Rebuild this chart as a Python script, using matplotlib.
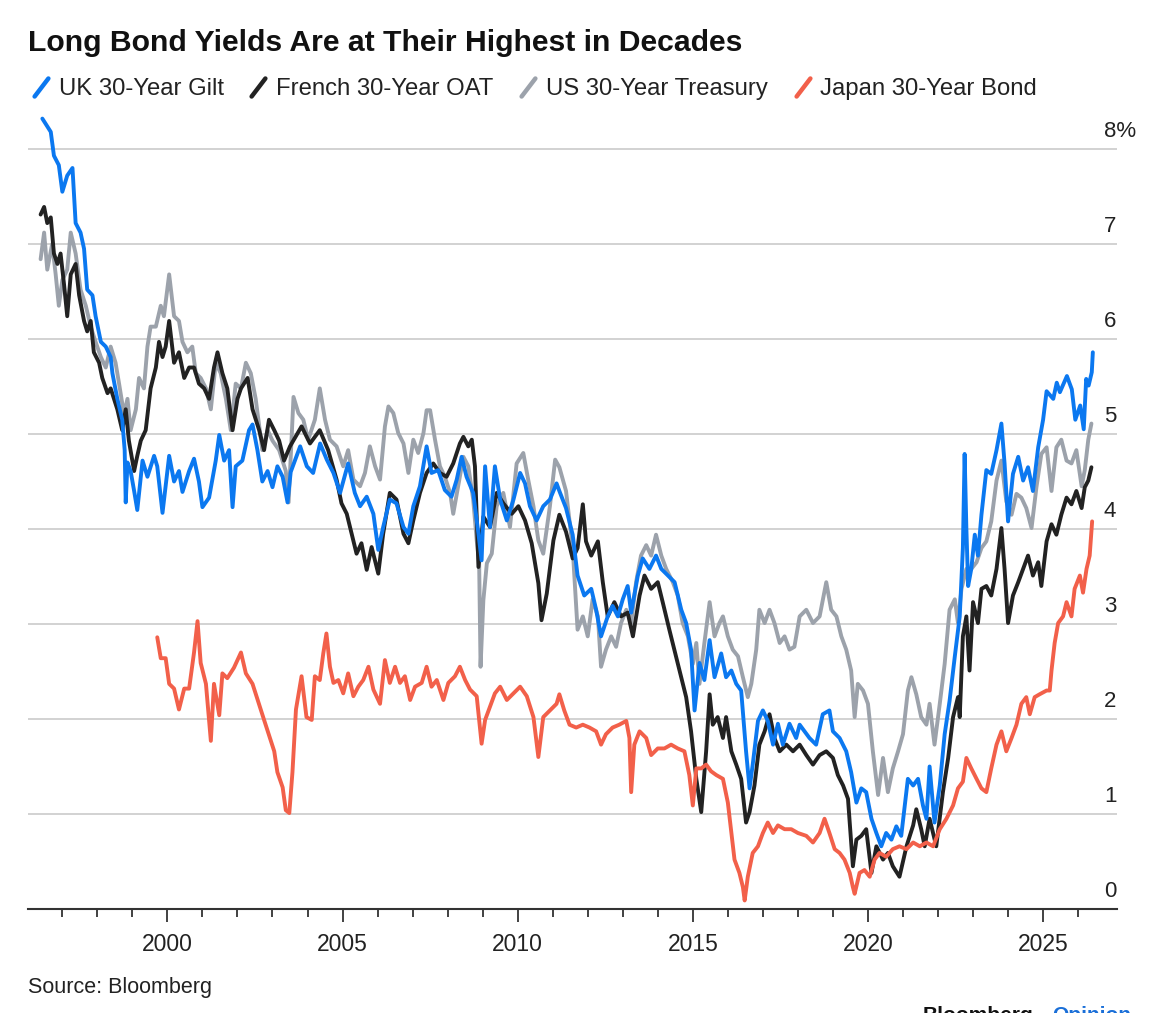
import matplotlib
matplotlib.use("Agg")
import matplotlib.pyplot as plt
from matplotlib.lines import Line2D
from matplotlib.markers import MarkerStyle
from matplotlib.path import Path
from matplotlib.transforms import ScaledTranslation

# ---------------- data ----------------
uk_years = [1996.43, 1996.67, 1996.76, 1996.9, 1997.0, 1997.14, 1997.29, 1997.38, 1997.52, 1997.62,
            1997.71, 1997.86, 1997.95, 1998.1, 1998.24, 1998.38, 1998.43, 1998.57, 1998.71, 1998.78,
            1998.81, 1998.86, 1998.95, 1999.05, 1999.14, 1999.29, 1999.43, 1999.62, 1999.71, 1999.86,
            2000.05, 2000.19, 2000.33, 2000.43, 2000.62, 2000.76, 2000.9, 2001.0, 2001.19, 2001.38,
            2001.48, 2001.62, 2001.76, 2001.86, 2001.95, 2002.14, 2002.33, 2002.43, 2002.57, 2002.71,
            2002.86, 2003.0, 2003.14, 2003.29, 2003.43, 2003.52, 2003.79, 2003.98, 2004.16, 2004.36,
            2004.55, 2004.74, 2004.93, 2005.16, 2005.35, 2005.5, 2005.69, 2005.88, 2006.02, 2006.16,
            2006.35, 2006.54, 2006.74, 2006.88, 2007.02, 2007.21, 2007.4, 2007.54, 2007.73, 2007.92,
            2008.11, 2008.26, 2008.4, 2008.54, 2008.73, 2008.88, 2008.97, 2009.07, 2009.21, 2009.35,
            2009.5, 2009.69, 2009.88, 2010.07, 2010.21, 2010.35, 2010.54, 2010.73, 2010.92, 2011.11,
            2011.19, 2011.38, 2011.57, 2011.71, 2011.9, 2012.1, 2012.24, 2012.38, 2012.57, 2012.71,
            2012.86, 2013.0, 2013.14, 2013.24, 2013.43, 2013.57, 2013.76, 2013.95, 2014.1, 2014.29,
            2014.48, 2014.67, 2014.81, 2014.95, 2015.05, 2015.19, 2015.33, 2015.48, 2015.62, 2015.81,
            2015.95, 2016.1, 2016.24, 2016.38, 2016.52, 2016.62, 2016.71, 2016.86, 2017.0, 2017.14,
            2017.29, 2017.43, 2017.57, 2017.76, 2017.95, 2018.05, 2018.33, 2018.52, 2018.71, 2018.9,
            2019.0, 2019.19, 2019.38, 2019.52, 2019.67, 2019.81, 2019.95, 2020.1, 2020.24, 2020.38,
            2020.52, 2020.67, 2020.81, 2020.95, 2021.14, 2021.29, 2021.43, 2021.57, 2021.67, 2021.76,
            2021.9, 2022.05, 2022.19, 2022.33, 2022.48, 2022.62, 2022.71, 2022.76, 2022.81, 2022.86,
            2022.95, 2023.05, 2023.14, 2023.24, 2023.38, 2023.52, 2023.67, 2023.81, 2023.9, 2024.0,
            2024.14, 2024.29, 2024.43, 2024.57, 2024.71, 2024.86, 2025.0, 2025.1, 2025.29, 2025.39,
            2025.48, 2025.68, 2025.82, 2025.92, 2026.06, 2026.16, 2026.23, 2026.3, 2026.39, 2026.42]
uk_values = [8.32, 8.18, 7.93, 7.83, 7.55, 7.72, 7.8, 7.22, 7.12, 6.95,
             6.52, 6.46, 6.24, 5.97, 5.92, 5.81, 5.64, 5.37, 5.15, 4.83,
             4.28, 4.7, 4.61, 4.4, 4.2, 4.72, 4.55, 4.77, 4.66, 4.17,
             4.77, 4.5, 4.61, 4.39, 4.61, 4.74, 4.5, 4.23, 4.33, 4.72,
             4.99, 4.72, 4.83, 4.23, 4.66, 4.72, 5.04, 5.1, 4.83, 4.5,
             4.61, 4.44, 4.66, 4.55, 4.28, 4.6, 4.87, 4.66, 4.59, 4.9,
             4.73, 4.59, 4.38, 4.69, 4.38, 4.24, 4.34, 4.16, 3.78, 4.02,
             4.31, 4.27, 4.02, 3.95, 4.24, 4.45, 4.87, 4.59, 4.62, 4.41,
             4.34, 4.52, 4.76, 4.55, 4.38, 3.95, 3.67, 4.66, 4.02, 4.66,
             4.31, 4.09, 4.31, 4.59, 4.48, 4.24, 4.09, 4.24, 4.31, 4.48,
             4.40, 4.22, 3.94, 3.51, 3.3, 3.37, 3.15, 2.87, 3.08, 3.19,
             3.08, 3.26, 3.4, 3.12, 3.51, 3.69, 3.58, 3.72, 3.58, 3.51,
             3.44, 3.15, 3.01, 2.73, 2.09, 2.59, 2.41, 2.83, 2.44, 2.69,
             2.44, 2.51, 2.37, 2.3, 1.66, 1.27, 1.52, 1.98, 2.09, 1.98,
             1.73, 1.95, 1.73, 1.95, 1.8, 1.94, 1.8, 1.73, 2.05, 2.09,
             1.87, 1.8, 1.66, 1.44, 1.12, 1.27, 1.23, 0.95, 0.8, 0.66,
             0.8, 0.73, 0.87, 0.77, 1.37, 1.3, 1.37, 1.09, 0.95, 1.5,
             0.91, 1.3, 1.84, 2.19, 2.66, 3.08, 3.8, 4.79, 4.0, 3.4,
             3.58, 3.94, 3.72, 4.15, 4.62, 4.58, 4.83, 5.11, 4.69, 4.08,
             4.58, 4.76, 4.51, 4.65, 4.4, 4.86, 5.15, 5.45, 5.37, 5.54,
             5.44, 5.61, 5.47, 5.15, 5.3, 5.05, 5.58, 5.51, 5.65, 5.86]

fr_years = [1996.38, 1996.48, 1996.57, 1996.67, 1996.76, 1996.86, 1996.95, 1997.05, 1997.14, 1997.24,
            1997.38, 1997.48, 1997.62, 1997.71, 1997.81, 1997.9, 1998.05, 1998.14, 1998.29, 1998.38,
            1998.57, 1998.71, 1998.81, 1998.9, 1999.05, 1999.14, 1999.24, 1999.38, 1999.52, 1999.67,
            1999.76, 1999.86, 1999.95, 2000.05, 2000.19, 2000.33, 2000.48, 2000.62, 2000.76, 2000.9,
            2001.05, 2001.19, 2001.33, 2001.43, 2001.57, 2001.71, 2001.86, 2002.0, 2002.1, 2002.29,
            2002.43, 2002.62, 2002.76, 2002.9, 2003.05, 2003.19, 2003.33, 2003.5, 2003.83, 2004.07,
            2004.35, 2004.59, 2004.83, 2004.97, 2005.12, 2005.26, 2005.4, 2005.54, 2005.69, 2005.83,
            2006.02, 2006.16, 2006.35, 2006.54, 2006.74, 2006.88, 2007.02, 2007.21, 2007.4, 2007.59,
            2007.78, 2007.97, 2008.16, 2008.35, 2008.45, 2008.59, 2008.69, 2008.78, 2008.88, 2009.02,
            2009.21, 2009.4, 2009.59, 2009.83, 2010.02, 2010.21, 2010.4, 2010.59, 2010.68, 2010.83,
            2011.02, 2011.19, 2011.38, 2011.57, 2011.71, 2011.86, 2011.95, 2012.1, 2012.29, 2012.43,
            2012.57, 2012.76, 2012.95, 2013.14, 2013.29, 2013.48, 2013.62, 2013.81, 2014.0, 2014.14,
            2014.33, 2014.52, 2014.67, 2014.81, 2014.95, 2015.1, 2015.24, 2015.38, 2015.48, 2015.57,
            2015.71, 2015.86, 2015.95, 2016.1, 2016.24, 2016.38, 2016.52, 2016.62, 2016.76, 2016.9,
            2017.05, 2017.19, 2017.33, 2017.48, 2017.67, 2017.86, 2018.05, 2018.24, 2018.43, 2018.62,
            2018.81, 2019.0, 2019.14, 2019.29, 2019.43, 2019.57, 2019.67, 2019.81, 2019.95, 2020.1,
            2020.24, 2020.43, 2020.57, 2020.71, 2020.9, 2021.1, 2021.29, 2021.38, 2021.52, 2021.62,
            2021.76, 2021.95, 2022.14, 2022.29, 2022.43, 2022.57, 2022.62, 2022.71, 2022.81, 2022.9,
            2023.0, 2023.14, 2023.24, 2023.38, 2023.52, 2023.67, 2023.81, 2023.9, 2024.0, 2024.14,
            2024.29, 2024.43, 2024.57, 2024.71, 2024.86, 2024.95, 2025.1, 2025.24, 2025.38, 2025.52,
            2025.67, 2025.81, 2025.95, 2026.1, 2026.19, 2026.29, 2026.38]
fr_values = [7.31, 7.39, 7.22, 7.28, 6.9, 6.79, 6.9, 6.57, 6.24, 6.68,
             6.79, 6.46, 6.19, 6.08, 6.19, 5.86, 5.75, 5.59, 5.43, 5.48,
             5.26, 5.04, 5.26, 4.93, 4.61, 4.77, 4.93, 5.04, 5.48, 5.7,
             5.97, 5.81, 5.92, 6.19, 5.75, 5.86, 5.59, 5.7, 5.7, 5.53,
             5.48, 5.37, 5.7, 5.86, 5.64, 5.48, 5.04, 5.37, 5.48, 5.59,
             5.26, 5.04, 4.83, 5.15, 5.04, 4.93, 4.72, 4.87, 5.08, 4.9,
             5.04, 4.83, 4.52, 4.27, 4.16, 3.95, 3.74, 3.85, 3.57, 3.81,
             3.53, 3.95, 4.38, 4.31, 3.95, 3.85, 4.09, 4.38, 4.59, 4.69,
             4.59, 4.55, 4.69, 4.9, 4.97, 4.87, 4.94, 4.66, 3.6, 4.13,
             4.02, 4.38, 4.27, 4.16, 4.24, 4.09, 3.85, 3.43, 3.04, 3.32,
             3.88, 4.15, 3.97, 3.69, 3.8, 4.26, 3.87, 3.72, 3.87, 3.44,
             3.08, 3.23, 3.08, 3.12, 2.87, 3.3, 3.51, 3.37, 3.44, 3.23,
             2.94, 2.66, 2.44, 2.23, 1.87, 1.37, 1.02, 1.66, 2.26, 1.94,
             2.02, 1.8, 2.02, 1.66, 1.52, 1.37, 0.91, 1.02, 1.3, 1.73,
             1.87, 2.05, 1.8, 1.66, 1.73, 1.66, 1.73, 1.62, 1.52, 1.62,
             1.66, 1.59, 1.41, 1.3, 1.16, 0.45, 0.73, 0.77, 0.84, 0.38,
             0.66, 0.52, 0.59, 0.45, 0.34, 0.66, 0.88, 1.05, 0.84, 0.66,
             0.95, 0.66, 1.23, 1.59, 2.02, 2.23, 2.02, 2.87, 3.08, 2.51,
             3.23, 3.01, 3.37, 3.4, 3.3, 3.58, 4.01, 3.58, 3.01, 3.3,
             3.44, 3.58, 3.72, 3.51, 3.65, 3.4, 3.87, 4.05, 3.94, 4.15,
             4.33, 4.26, 4.4, 4.22, 4.44, 4.51, 4.65]

us_years = [1996.38, 1996.48, 1996.57, 1996.71, 1996.81, 1996.9, 1997.0, 1997.14, 1997.24, 1997.38,
            1997.52, 1997.67, 1997.81, 1997.95, 1998.1, 1998.24, 1998.38, 1998.52, 1998.62, 1998.76,
            1998.86, 1998.95, 1999.1, 1999.19, 1999.33, 1999.43, 1999.52, 1999.67, 1999.81, 1999.9,
            2000.05, 2000.19, 2000.33, 2000.43, 2000.57, 2000.71, 2000.81, 2000.95, 2001.1, 2001.24,
            2001.38, 2001.52, 2001.67, 2001.81, 2001.95, 2002.1, 2002.24, 2002.38, 2002.52, 2002.71,
            2002.86, 2003.0, 2003.19, 2003.38, 2003.46, 2003.6, 2003.74, 2003.88, 2004.02, 2004.21,
            2004.35, 2004.5, 2004.64, 2004.83, 2005.02, 2005.16, 2005.31, 2005.5, 2005.64, 2005.78,
            2005.93, 2006.07, 2006.21, 2006.31, 2006.45, 2006.59, 2006.74, 2006.88, 2007.02, 2007.16,
            2007.31, 2007.4, 2007.5, 2007.64, 2007.78, 2007.92, 2008.07, 2008.16, 2008.3, 2008.45,
            2008.59, 2008.73, 2008.83, 2008.9, 2008.94, 2009.02, 2009.12, 2009.26, 2009.4, 2009.59,
            2009.78, 2009.97, 2010.16, 2010.3, 2010.45, 2010.59, 2010.73, 2010.92, 2011.07, 2011.19,
            2011.38, 2011.57, 2011.71, 2011.86, 2012.0, 2012.14, 2012.29, 2012.38, 2012.52, 2012.67,
            2012.81, 2012.95, 2013.1, 2013.24, 2013.38, 2013.52, 2013.67, 2013.81, 2013.95, 2014.1,
            2014.24, 2014.43, 2014.57, 2014.71, 2014.86, 2015.0, 2015.1, 2015.19, 2015.33, 2015.48,
            2015.62, 2015.76, 2015.86, 2016.0, 2016.14, 2016.29, 2016.43, 2016.57, 2016.67, 2016.81,
            2016.9, 2017.05, 2017.19, 2017.33, 2017.48, 2017.62, 2017.76, 2017.9, 2018.05, 2018.24,
            2018.43, 2018.62, 2018.81, 2018.95, 2019.1, 2019.24, 2019.38, 2019.52, 2019.62, 2019.71,
            2019.86, 2020.0, 2020.14, 2020.29, 2020.43, 2020.57, 2020.71, 2020.86, 2021.0, 2021.14,
            2021.24, 2021.38, 2021.52, 2021.67, 2021.76, 2021.9, 2022.05, 2022.19, 2022.33, 2022.48,
            2022.57, 2022.67, 2022.81, 2022.95, 2023.1, 2023.24, 2023.38, 2023.52, 2023.67, 2023.81,
            2023.95, 2024.1, 2024.24, 2024.38, 2024.52, 2024.67, 2024.81, 2024.95, 2025.1, 2025.24,
            2025.38, 2025.52, 2025.67, 2025.81, 2025.95, 2026.1, 2026.19, 2026.29, 2026.38]
us_values = [6.84, 7.12, 6.73, 7.0, 6.68, 6.35, 6.62, 6.73, 7.12, 6.9,
             6.52, 6.35, 6.13, 5.97, 5.81, 5.7, 5.92, 5.75, 5.53, 5.21,
             5.37, 5.04, 5.26, 5.59, 5.48, 5.92, 6.13, 6.13, 6.35, 6.24,
             6.68, 6.24, 6.19, 5.97, 5.86, 5.92, 5.64, 5.59, 5.48, 5.26,
             5.75, 5.64, 5.37, 5.04, 5.53, 5.48, 5.75, 5.64, 5.37, 4.83,
             5.04, 4.93, 4.83, 4.61, 4.28, 5.39, 5.22, 5.15, 4.94, 5.15,
             5.48, 5.15, 4.94, 4.87, 4.66, 4.83, 4.52, 4.45, 4.59, 4.87,
             4.66, 4.52, 5.08, 5.29, 5.22, 5.01, 4.9, 4.59, 4.94, 4.8,
             5.01, 5.25, 5.25, 4.94, 4.66, 4.55, 4.38, 4.16, 4.45, 4.76,
             4.66, 4.31, 3.88, 3.64, 2.55, 3.25, 3.64, 3.74, 4.24, 4.38,
             4.02, 4.69, 4.8, 4.52, 4.24, 3.88, 3.74, 4.24, 4.73, 4.65,
             4.4, 3.8, 2.94, 3.08, 2.87, 3.26, 3.08, 2.55, 2.73, 2.87,
             2.76, 3.01, 3.15, 3.01, 3.44, 3.72, 3.83, 3.72, 3.94, 3.72,
             3.58, 3.44, 3.3, 3.01, 2.87, 2.58, 2.8, 2.37, 2.8, 3.23,
             2.87, 3.01, 3.08, 2.87, 2.73, 2.66, 2.44, 2.23, 2.37, 2.73,
             3.15, 3.01, 3.15, 3.01, 2.8, 2.87, 2.73, 2.76, 3.08, 3.15,
             3.01, 3.08, 3.44, 3.15, 3.08, 2.87, 2.73, 2.51, 2.02, 2.37,
             2.3, 2.16, 1.66, 1.2, 1.59, 1.23, 1.48, 1.66, 1.84, 2.3,
             2.44, 2.26, 2.02, 1.94, 2.16, 1.73, 2.16, 2.58, 3.15, 3.26,
             3.01, 3.37, 3.58, 3.58, 3.65, 3.8, 3.87, 4.08, 4.51, 4.72,
             4.29, 4.15, 4.37, 4.33, 4.22, 4.01, 4.44, 4.79, 4.86, 4.4,
             4.86, 4.94, 4.72, 4.69, 4.83, 4.45, 4.62, 4.94, 5.11]

jp_years = [1999.71, 1999.81, 1999.95, 2000.05, 2000.19, 2000.33, 2000.48, 2000.62, 2000.76, 2000.86,
            2000.95, 2001.1, 2001.24, 2001.33, 2001.48, 2001.57, 2001.71, 2001.9, 2002.1, 2002.24,
            2002.43, 2002.62, 2002.76, 2002.9, 2003.05, 2003.14, 2003.29, 2003.38, 2003.48, 2003.57,
            2003.67, 2003.83, 2003.97, 2004.12, 2004.21, 2004.35, 2004.45, 2004.54, 2004.64, 2004.74,
            2004.88, 2005.02, 2005.16, 2005.31, 2005.45, 2005.59, 2005.74, 2005.88, 2006.07, 2006.21,
            2006.35, 2006.5, 2006.64, 2006.78, 2006.93, 2007.07, 2007.26, 2007.4, 2007.54, 2007.69,
            2007.88, 2008.02, 2008.21, 2008.35, 2008.5, 2008.64, 2008.83, 2008.97, 2009.07, 2009.21,
            2009.35, 2009.5, 2009.69, 2009.88, 2010.07, 2010.26, 2010.45, 2010.59, 2010.73, 2010.92,
            2011.11, 2011.19, 2011.33, 2011.48, 2011.67, 2011.86, 2012.05, 2012.24, 2012.38, 2012.52,
            2012.71, 2012.9, 2013.1, 2013.19, 2013.24, 2013.33, 2013.48, 2013.67, 2013.81, 2014.0,
            2014.19, 2014.38, 2014.57, 2014.76, 2014.9, 2015.0, 2015.1, 2015.24, 2015.38, 2015.52,
            2015.67, 2015.86, 2016.0, 2016.1, 2016.19, 2016.33, 2016.43, 2016.48, 2016.57, 2016.71,
            2016.86, 2017.0, 2017.14, 2017.29, 2017.43, 2017.62, 2017.81, 2018.0, 2018.24, 2018.43,
            2018.62, 2018.76, 2018.9, 2019.05, 2019.19, 2019.33, 2019.48, 2019.57, 2019.62, 2019.76,
            2019.9, 2020.05, 2020.19, 2020.33, 2020.52, 2020.71, 2020.9, 2021.1, 2021.29, 2021.48,
            2021.67, 2021.86, 2022.05, 2022.24, 2022.43, 2022.57, 2022.71, 2022.81, 2022.95, 2023.1,
            2023.24, 2023.38, 2023.52, 2023.67, 2023.81, 2023.95, 2024.1, 2024.24, 2024.38, 2024.52,
            2024.62, 2024.76, 2024.9, 2025.1, 2025.19, 2025.24, 2025.33, 2025.43, 2025.57, 2025.67,
            2025.81, 2025.9, 2026.05, 2026.14, 2026.24, 2026.33, 2026.4]
jp_values = [2.86, 2.64, 2.64, 2.37, 2.32, 2.1, 2.32, 2.32, 2.7, 3.03,
             2.59, 2.37, 1.77, 2.37, 2.04, 2.48, 2.43, 2.54, 2.7, 2.48,
             2.37, 2.15, 1.99, 1.83, 1.66, 1.44, 1.28, 1.04, 1.01, 1.44,
             2.1, 2.45, 2.02, 1.99, 2.45, 2.41, 2.69, 2.9, 2.55, 2.38,
             2.41, 2.27, 2.48, 2.24, 2.34, 2.41, 2.55, 2.31, 2.16, 2.62,
             2.38, 2.55, 2.38, 2.45, 2.2, 2.34, 2.38, 2.55, 2.34, 2.41,
             2.2, 2.38, 2.45, 2.55, 2.41, 2.31, 2.24, 1.74, 1.99, 2.13,
             2.27, 2.34, 2.2, 2.27, 2.34, 2.24, 2.02, 1.6, 2.02, 2.09,
             2.16, 2.26, 2.09, 1.94, 1.91, 1.94, 1.91, 1.87, 1.73, 1.84,
             1.91, 1.94, 1.98, 1.8, 1.23, 1.73, 1.87, 1.8, 1.62, 1.69,
             1.69, 1.73, 1.69, 1.66, 1.41, 1.09, 1.48, 1.48, 1.52, 1.45,
             1.41, 1.37, 1.12, 0.8, 0.52, 0.38, 0.23, 0.09, 0.34, 0.59,
             0.66, 0.8, 0.91, 0.8, 0.88, 0.84, 0.84, 0.8, 0.77, 0.7,
             0.8, 0.95, 0.8, 0.63, 0.59, 0.52, 0.38, 0.23, 0.16, 0.38,
             0.41, 0.34, 0.52, 0.59, 0.55, 0.63, 0.66, 0.63, 0.7, 0.66,
             0.7, 0.66, 0.84, 0.95, 1.09, 1.27, 1.34, 1.59, 1.48, 1.37,
             1.27, 1.23, 1.48, 1.73, 1.87, 1.66, 1.8, 1.94, 2.16, 2.23,
             2.05, 2.23, 2.26, 2.3, 2.3, 2.51, 2.8, 3.01, 3.08, 3.23,
             3.08, 3.37, 3.51, 3.33, 3.58, 3.72, 4.08]

series_names = ["UK 30-Year Gilt", "French 30-Year OAT", "US 30-Year Treasury", "Japan 30-Year Bond"]
series_colors = ["#0b78f0", "#222222", "#9ca2ab", "#f2604a"]
y_ticks = [0, 1, 2, 3, 4, 5, 6, 7, 8]
y_ticklabels = ["0", "1", "2", "3", "4", "5", "6", "7", "8%"]
x_major = [2000, 2005, 2010, 2015, 2020, 2025]
x_minor = list(range(1997, 2027))

title = "Long Bond Yields Are at Their Highest in Decades"
source = "Source: Bloomberg"

# ---------------- figure ----------------
W, H = 1152, 1013
plt.rcParams['font.family'] = ['Liberation Sans', 'DejaVu Sans']
fig = plt.figure(figsize=(W / 100, H / 100), dpi=100)
fig.patch.set_facecolor("white")

ymax = 8.45
ax = fig.add_axes([28 / W, (H - 909) / H, (1117 - 28) / W, ymax * 95 / H])
ax.set_xlim(1996.02, 2027.11)
ax.set_ylim(0, ymax)

data = {
    "UK 30-Year Gilt": (uk_years, uk_values),
    "French 30-Year OAT": (fr_years, fr_values),
    "US 30-Year Treasury": (us_years, us_values),
    "Japan 30-Year Bond": (jp_years, jp_values),
}
zorders = {"US 30-Year Treasury": 2, "French 30-Year OAT": 3, "UK 30-Year Gilt": 4, "Japan 30-Year Bond": 5}
for name, col in zip(series_names, series_colors):
    xs, ys = data[name]
    ax.plot(xs, ys, color=col, lw=2.8, solid_joinstyle="round", solid_capstyle="round",
            zorder=zorders[name])

# grid and spines
ax.set_yticks(y_ticks)
ax.set_yticklabels(y_ticklabels)
ax.yaxis.tick_right()
ax.grid(axis="y", color="#cfcfcf", lw=1.3, zorder=0)
ax.set_axisbelow(True)
for s in ["top", "left", "right"]:
    ax.spines[s].set_visible(False)
ax.spines["bottom"].set_color("#333333")
ax.spines["bottom"].set_linewidth(1.5)
ax.spines["bottom"].set_zorder(1)

ax.tick_params(axis="y", length=0, pad=-9.4, labelsize=16, labelcolor="#222222")
off = ScaledTranslation(0, 12 / 100, fig.dpi_scale_trans)
for lab in ax.get_yticklabels():
    lab.set_verticalalignment("baseline")
    lab.set_horizontalalignment("left")
    lab.set_transform(lab.get_transform() + off)

ax.set_xticks(x_major)
ax.set_xticklabels([str(v) for v in x_major])
ax.set_xticks(x_minor, minor=True)
ax.tick_params(axis="x", which="major", direction="out", length=9, width=1.3, color="#333333",
               pad=8, labelsize=16.5, labelcolor="#222222")
ax.tick_params(axis="x", which="minor", direction="out", length=6, width=1.3, color="#333333")

# title
fig.text(28 / W, 1 - 51 / H, title, fontsize=21.7, fontweight="bold", color="#111111",
         ha="left", va="baseline")

# legend with slash markers
slash = MarkerStyle(Path([[-0.42, -0.55], [0.42, 0.55]]), capstyle="round")
handles = [Line2D([], [], linestyle="none", marker=slash, markersize=13, markeredgewidth=3.2,
                  markeredgecolor=c, markerfacecolor=c) for c in series_colors]
leg = fig.legend(handles, series_names, loc="center left", bbox_to_anchor=(30 / W, 1 - 89 / H),
                 ncol=4, frameon=False, fontsize=17.2, handlelength=0.9, handletextpad=0.3,
                 columnspacing=1.0, borderpad=0, borderaxespad=0)
for t in leg.get_texts():
    t.set_color("#222222")

# source and branding (the reference shows the branding cut by the bottom edge)
fig.text(28 / W, 1 - 993 / H, source, fontsize=15.5, color="#222222", ha="left", va="baseline")
fig.text(923 / W, 1 - 1006 / H, "Bloomberg", fontsize=15, fontweight="bold", color="#111111",
         ha="left", va="top")
fig.text(1052 / W, 1 - 1006 / H, "Opinion", fontsize=15, fontweight="bold", color="#1a6fd8",
         ha="left", va="top")

fig.savefig("out.png", dpi=100)
